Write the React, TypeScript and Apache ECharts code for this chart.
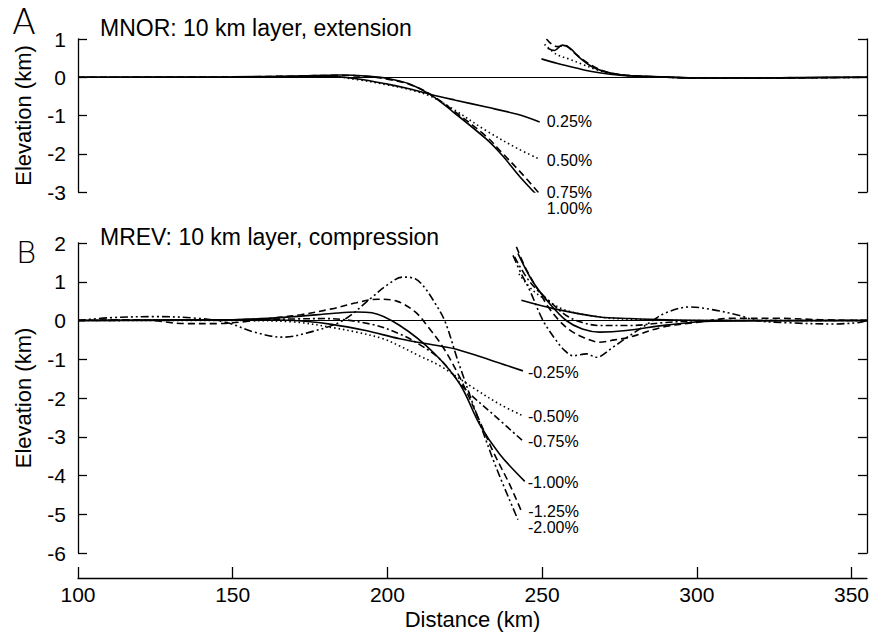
import React, { useEffect, useRef } from "react";
import * as echarts from "echarts";

const FONT = '"Liberation Sans", Arial, Helvetica, sans-serif';

// ---------- Panel A: MNOR extension ----------
const topYTicks = [1, 0, -1, -2, -3];
const topLabels = ["0.25%", "0.50%", "0.75%", "1.00%"];

const a025Left = [[100, 0], [150, 0], [170, 0.02], [182, 0.02], [190, -0.04], [200, -0.18], [207, -0.3], [214, -0.45], [222, -0.6], [232, -0.78], [242, -0.97], [249.2, -1.17]];
const a050Left = [[100, 0], [150, 0], [170, 0.02], [182, 0.02], [190, -0.06], [200, -0.2], [207, -0.32], [214, -0.5], [221, -0.82], [232, -1.4], [242, -1.86], [248.6, -2.12]];
const a075Left = [[100, 0], [150, 0.01], [170, 0.03], [185, 0.05], [195, 0.01], [200, -0.05], [207, -0.18], [214, -0.45], [221, -0.85], [232, -1.55], [237, -1.97], [243, -2.48], [249.2, -3.05]];
const a100Left = [[100, 0], [150, 0.01], [170, 0.03], [185, 0.06], [195, 0.02], [200, -0.03], [207, -0.17], [214, -0.46], [221, -0.89], [232, -1.62], [237.3, -2.06], [242.8, -2.6], [250.2, -3.24]];

const a025Right = [[249.8, 0.48], [255, 0.36], [261, 0.24], [266, 0.15], [272, 0.08], [280, 0.03], [290, 0.01], [300, -0.02], [320, -0.02], [340, 0], [355, 0]];
const a050Right = [[250.8, 0.86], [254.6, 0.6], [258.9, 0.47], [263, 0.34], [267.5, 0.2], [272, 0.1], [280, 0.03], [290, 0], [300, -0.02], [320, -0.02], [355, 0]];
const a075Right = [[251.4, 1.0], [253, 0.87], [255, 0.8], [257.5, 0.83], [260, 0.66], [265, 0.36], [270, 0.16], [276, 0.06], [285, 0.02], [300, -0.02], [320, -0.02], [355, 0]];
const a100Right = [[251.8, 0.76], [254, 0.7], [256.5, 0.84], [259, 0.76], [262, 0.52], [266, 0.28], [270, 0.15], [276, 0.06], [285, 0.02], [300, -0.02], [320, -0.02], [355, 0]];

// ---------- Panel B: MREV compression ----------
const bottomYTicks = [2, 1, 0, -1, -2, -3, -4, -5, -6];
const xTicks = [100, 150, 200, 250, 300, 350];
const bottomLabels = ["-0.25%", "-0.50%", "-0.75%", "-1.00%", "-1.25%", "-2.00%"];

const b025Left = [[100, 0], [150, 0.02], [170, 0], [182, -0.1], [193, -0.26], [204, -0.47], [217, -0.66], [222.3, -0.74], [233, -1.01], [243.8, -1.3]];
const b050Left = [[100, 0], [150, 0], [170, -0.04], [182, -0.18], [190, -0.3], [198.6, -0.47], [204, -0.66], [210, -0.9], [217, -1.17], [227.6, -1.73], [236.3, -2.16], [243.8, -2.46]];
const b075Left = [[100, 0], [150, 0.02], [170, 0.04], [180, 0.05], [195, -0.1], [204, -0.35], [210, -0.6], [217, -1.0], [225.5, -1.8], [235, -2.48], [243.8, -3.11]];
const b100Left = [[100, 0], [150, 0.02], [170, 0.1], [182, 0.18], [190, 0.22], [195, 0.2], [204, -0.13], [214.8, -0.82], [223.4, -1.64], [229.8, -2.68], [236.3, -3.45], [244.4, -4.15]];
const b125Left = [[100, 0], [120, 0.02], [135, -0.08], [145, -0.08], [155, -0.02], [165, 0.08], [172, 0.15], [182, 0.3], [190, 0.46], [197, 0.55], [203, 0.5], [209, 0.22], [213, -0.15], [218, -0.69], [223.4, -1.47], [228.8, -2.41], [234.1, -3.37], [239.5, -4.23], [243.3, -4.92]];
const b200Left = [[100, 0], [110, 0.07], [125, 0.1], [138, 0.06], [148, -0.05], [157, -0.3], [166, -0.43], [175, -0.3], [185.6, 0], [195, 0.6], [200, 0.92], [205, 1.12], [209, 1.08], [212, 0.85], [215, 0.5], [218.5, 0], [222.8, -1.04], [228.8, -2.41], [235.2, -3.8], [242.2, -5.14]];

const b025Right = [[243.3, 0.52], [254, 0.3], [268.6, 0.09], [278.3, 0.05], [290, 0.02], [310, 0], [355, 0]];
const b050Right = [[242.5, 1.2], [247, 0.78], [252, 0.5], [257.8, 0.26], [268.6, 0.09], [280, 0.03], [300, 0], [355, 0]];
const b075Right = [[241.1, 1.64], [246, 1.0], [252.4, 0.5], [257.8, 0.13], [263, -0.05], [268.6, -0.13], [278.3, -0.13], [290, -0.05], [305, 0], [355, 0]];
const b100Right = [[242.2, 1.73], [247, 1.0], [252.4, 0.44], [257.8, 0.0], [263, -0.22], [268.6, -0.3], [277.2, -0.26], [290, -0.12], [305, -0.02], [355, 0]];
const b125Right = [[241.7, 1.9], [245, 1.3], [249, 0.75], [252, 0.35], [255.5, 0], [259, -0.25], [263.2, -0.43], [268.6, -0.56], [273.4, -0.5], [278.3, -0.43], [289, -0.17], [300, -0.05], [312, 0.06], [325, 0.06], [340, 0.02], [355, 0]];
const b200Right = [[240.6, 1.68], [243, 1.25], [246, 0.78], [250.3, 0], [254.6, -0.52], [257, -0.75], [260, -0.91], [264.3, -0.86], [267.5, -0.95], [272.9, -0.69], [277.2, -0.45], [281, -0.25], [285.8, 0], [290, 0.2], [297.7, 0.35], [305, 0.28], [313.8, 0.13], [319.2, 0], [330, -0.06], [344, -0.09], [352.6, -0.05], [355, 0]];

const SOLID: any = "solid";
const DOTTED: any = [1.5, 3];
const DASHED: any = [7, 4];
const DASHDOT: any = [7, 3, 2, 3];
const DASHDOTDOT: any = [8, 3, 2, 3, 2, 3];

function makeLine(data: number[][], xi: number, yi: number, dash: any, label?: string, offset?: number[]) {
  const s: any = {
    type: "line",
    xAxisIndex: xi,
    yAxisIndex: yi,
    data,
    symbol: "none",
    showSymbol: false,
    smooth: 0.35,
    silent: true,
    lineStyle: { color: "#000", width: 1.6, type: dash },
  };
  if (label) {
    s.endLabel = {
      show: true,
      formatter: label,
      color: "#000",
      fontSize: 16,
      fontFamily: FONT,
      distance: 0,
      offset,
    };
  }
  return s;
}

export default function App() {
  const ref = useRef<HTMLDivElement>(null);
  useEffect(() => {
    document.body.style.margin = "0";
    const chart = echarts.init(ref.current!, null, { renderer: "svg" });
    const axisLine = { show: true, onZero: false, lineStyle: { color: "#000", width: 1.3 } };
    const yLeft = (gi: number, min: number, max: number) => ({
      type: "value",
      gridIndex: gi,
      position: "left",
      min,
      max,
      interval: 1,
      axisLine,
      axisTick: { show: true, inside: true, length: 9, lineStyle: { color: "#000", width: 1.3 } },
      axisLabel: { color: "#000", fontSize: 21, fontFamily: FONT, margin: 12 },
      splitLine: { show: false },
      name: "Elevation (km)",
      nameLocation: "middle",
      nameGap: 44,
      nameTextStyle: { color: "#000", fontSize: 22, fontFamily: FONT },
    });
    const yRight = (gi: number, min: number, max: number) => ({
      type: "value",
      gridIndex: gi,
      position: "right",
      min,
      max,
      interval: 1,
      axisLine,
      axisTick: { show: true, inside: true, length: 9, lineStyle: { color: "#000", width: 1.3 } },
      axisLabel: { show: false },
      splitLine: { show: false },
    });
    const zeroLine = {
      silent: true,
      symbol: "none",
      label: { show: false },
      lineStyle: { color: "#000", width: 1, type: "solid" },
      data: [{ yAxis: 0 }],
    };

    const topSeries = [
      makeLine(a025Left, 0, 0, SOLID, topLabels[0], [7, -1]),
      makeLine(a050Left, 0, 0, DOTTED, topLabels[1], [9, 2]),
      makeLine(a075Left, 0, 0, DASHED, topLabels[2], [7, -1]),
      makeLine(a100Left, 0, 0, SOLID, topLabels[3], [4, 7]),
      makeLine(a025Right, 0, 0, SOLID),
      makeLine(a050Right, 0, 0, DOTTED),
      makeLine(a075Right, 0, 0, DASHED),
      makeLine(a100Right, 0, 0, SOLID),
    ];
    topSeries[0].markLine = zeroLine;

    const bottomSeries = [
      makeLine(b025Left, 1, 2, SOLID, bottomLabels[0], [5, 2]),
      makeLine(b050Left, 1, 2, DOTTED, bottomLabels[1], [5, 1]),
      makeLine(b075Left, 1, 2, DASHDOT, bottomLabels[2], [5, 0]),
      makeLine(b100Left, 1, 2, SOLID, bottomLabels[3], [3, 1]),
      makeLine(b125Left, 1, 2, DASHED, bottomLabels[4], [7, 0]),
      makeLine(b200Left, 1, 2, DASHDOTDOT, bottomLabels[5], [10, 8]),
      makeLine(b025Right, 1, 2, SOLID),
      makeLine(b050Right, 1, 2, DOTTED),
      makeLine(b075Right, 1, 2, DASHDOT),
      makeLine(b100Right, 1, 2, SOLID),
      makeLine(b125Right, 1, 2, DASHED),
      makeLine(b200Right, 1, 2, DASHDOTDOT),
    ];
    bottomSeries[0].markLine = zeroLine;

    chart.setOption({
      animation: false,
      backgroundColor: "#fff",
      grid: [
        { left: 78, top: 39, width: 789, height: 153 },
        { left: 78, top: 243, width: 789, height: 310 },
      ],
      xAxis: [
        { type: "value", gridIndex: 0, min: 100, max: 355, show: false, axisLine: { onZero: false } },
        {
          type: "value",
          gridIndex: 1,
          min: 100,
          max: 355,
          position: "bottom",
          offset: 25,
          axisLine,
          axisTick: { show: true, inside: true, length: 11, customValues: xTicks, lineStyle: { color: "#000", width: 1.3 } },
          axisLabel: {
            color: "#000",
            fontSize: 21,
            fontFamily: FONT,
            margin: 6,
            customValues: xTicks,
            formatter: (v: number) => (xTicks.indexOf(v) >= 0 ? String(v) : ""),
          },
          splitLine: { show: false },
          name: "Distance (km)",
          nameLocation: "middle",
          nameGap: 30,
          nameTextStyle: { color: "#000", fontSize: 22, fontFamily: FONT },
        },
      ],
      yAxis: [
        yLeft(0, topYTicks[topYTicks.length - 1], topYTicks[0]),
        yRight(0, topYTicks[topYTicks.length - 1], topYTicks[0]),
        yLeft(1, bottomYTicks[bottomYTicks.length - 1], bottomYTicks[0]),
        yRight(1, bottomYTicks[bottomYTicks.length - 1], bottomYTicks[0]),
      ],
      graphic: [
        { type: "text", x: 12, y: 22, style: { text: "A", fill: "#000", fontSize: 35, fontWeight: 200, fontFamily: '"DejaVu Sans", sans-serif', verticalAlign: "middle" } },
        { type: "text", x: 16, y: 252, style: { text: "B", fill: "#000", fontSize: 31, fontWeight: 200, fontFamily: '"DejaVu Sans", sans-serif', verticalAlign: "middle" } },
        { type: "text", x: 100, y: 28, style: { text: "MNOR: 10 km layer, extension", fill: "#000", fontSize: 23, fontFamily: FONT, verticalAlign: "middle" } },
        { type: "text", x: 100, y: 237, style: { text: "MREV: 10 km layer, compression", fill: "#000", fontSize: 23, fontFamily: FONT, verticalAlign: "middle" } },
      ],
      series: [...topSeries, ...bottomSeries],
    });
    return () => chart.dispose();
  }, []);
  return <div ref={ref} style={{ width: 872, height: 633 }} />;
}
